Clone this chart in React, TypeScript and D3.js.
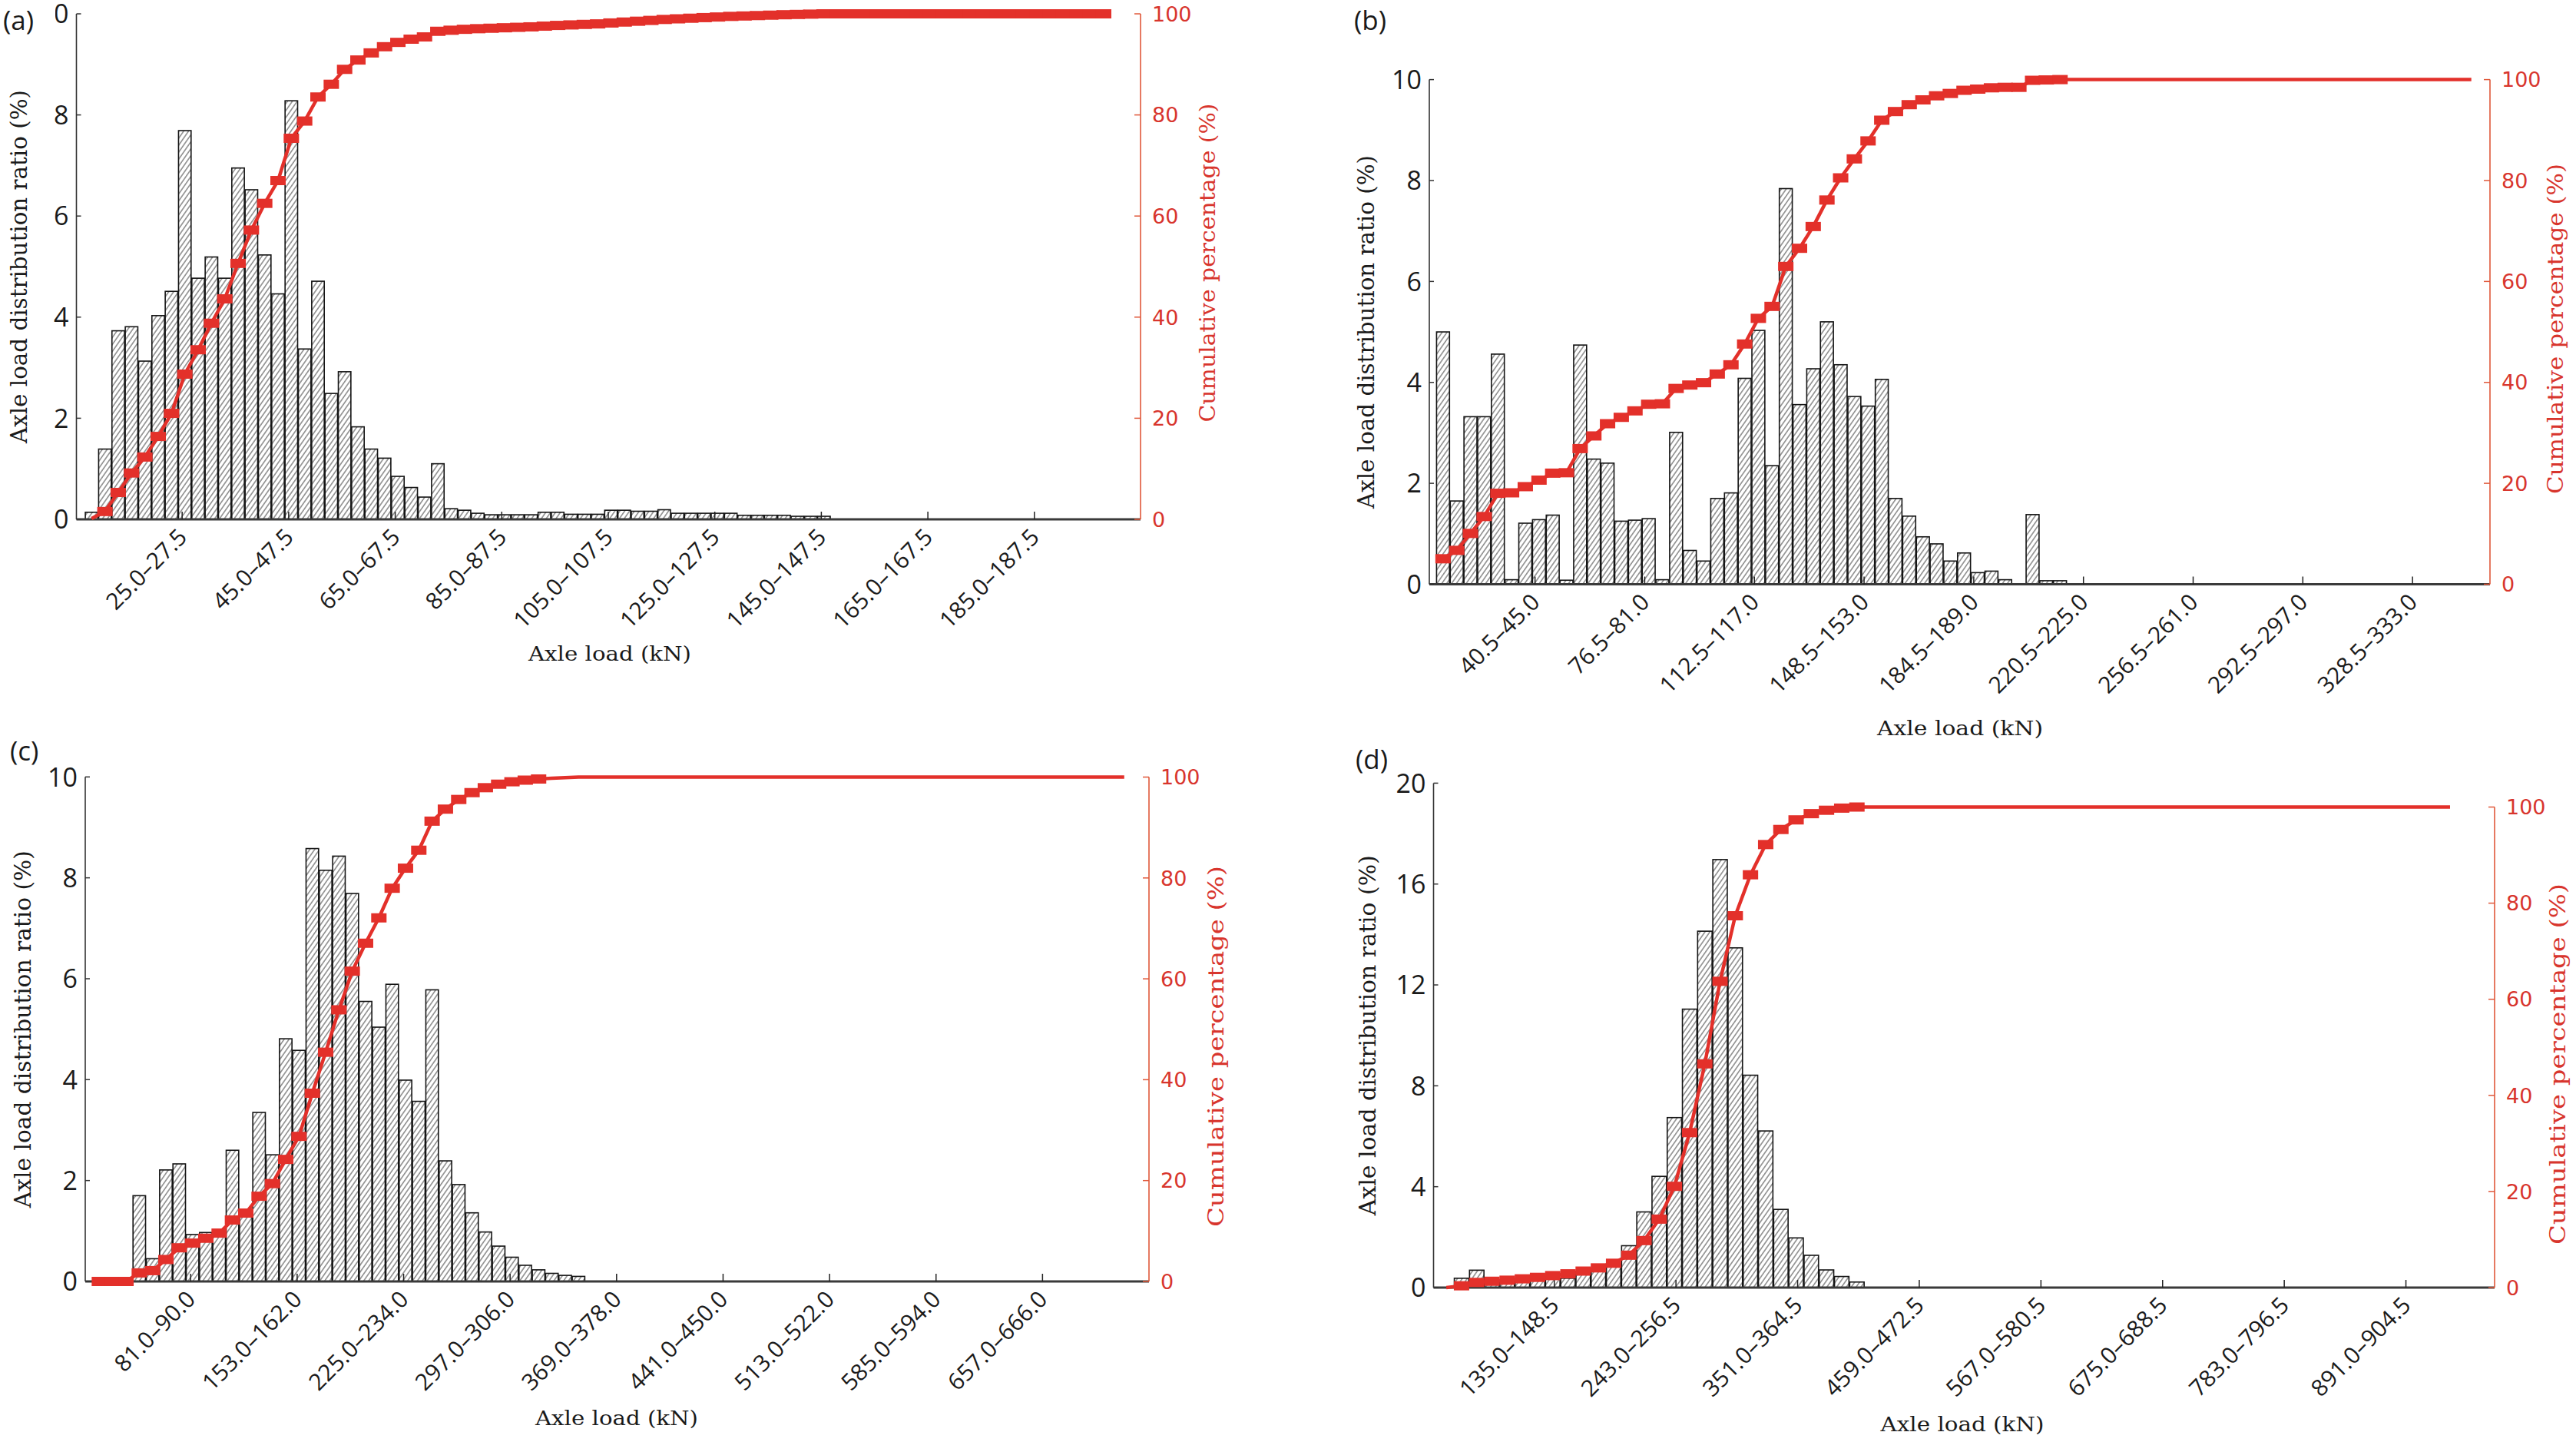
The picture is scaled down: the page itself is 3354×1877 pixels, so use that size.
import * as d3 from "d3";

// ---------- values ----------
// (a) 2.5 kN bins, first bin 7.5–10.0 kN
const barsA = [
  0.14, 1.39, 3.73, 3.81, 3.13, 4.03, 4.51, 7.69, 4.77, 5.19,
  4.77, 6.95, 6.52, 5.23, 4.46, 8.28, 3.37, 4.71, 2.49, 2.92,
  1.83, 1.39, 1.21, 0.85, 0.63, 0.44, 1.1, 0.21, 0.18, 0.12,
  0.09, 0.09, 0.09, 0.09, 0.14, 0.14, 0.1, 0.1, 0.1, 0.18,
  0.18, 0.16, 0.16, 0.19, 0.12, 0.12, 0.12, 0.12, 0.12, 0.08,
  0.08, 0.08, 0.08, 0.06, 0.06, 0.06,
];
const ticksA = [
  "25.0–27.5", "45.0–47.5", "65.0–67.5", "85.0–87.5", "105.0–107.5",
  "125.0–127.5", "145.0–147.5", "165.0–167.5", "185.0–187.5",
];

// (b) 4.5 kN bins, first bin 9.0–13.5 kN
const barsB = [
  5.0, 1.65, 3.32, 3.32, 4.56, 0.09, 1.21, 1.28, 1.37, 0.08,
  4.74, 2.48, 2.4, 1.25, 1.27, 1.3, 0.09, 3.01, 0.67, 0.46,
  1.7, 1.81, 4.08, 5.03, 2.35, 7.84, 3.56, 4.27, 5.2, 4.35,
  3.72, 3.53, 4.06, 1.7, 1.35, 0.94, 0.8, 0.46, 0.62, 0.23,
  0.26, 0.09, 0, 1.38, 0.07, 0.07,
];
const ticksB = [
  "40.5–45.0", "76.5–81.0", "112.5–117.0", "148.5–153.0", "184.5–189.0",
  "220.5–225.0", "256.5–261.0", "292.5–297.0", "328.5–333.0",
];

// (c) 9 kN bins, first bin 45.0–54.0 kN
const barsC = [
  1.7, 0.45, 2.21, 2.33, 0.93, 0.97, 1.02, 2.6, 1.38, 3.35,
  2.51, 4.81, 4.58, 8.58, 8.15, 8.43, 7.69, 5.55, 5.04, 5.89,
  3.99, 3.57, 5.78, 2.39, 1.92, 1.36, 0.98, 0.7, 0.48, 0.32,
  0.23, 0.16, 0.12, 0.1,
];
const ticksC = [
  "81.0–90.0", "153.0–162.0", "225.0–234.0", "297.0–306.0", "369.0–378.0",
  "441.0–450.0", "513.0–522.0", "585.0–594.0", "657.0–666.0",
];

// (d) 13.5 kN bins, first bin 54.0–67.5 kN
const barsD = [
  0.37, 0.69, 0.24, 0.22, 0.28, 0.3, 0.36, 0.37, 0.56, 0.66,
  0.95, 1.66, 3.0, 4.41, 6.74, 11.04, 14.13, 16.97, 13.47, 8.42,
  6.21, 3.1, 1.97, 1.28, 0.7, 0.44, 0.22,
];
const ticksD = [
  "135.0–148.5", "243.0–256.5", "351.0–364.5", "459.0–472.5",
  "567.0–580.5", "675.0–688.5", "783.0–796.5", "891.0–904.5",
];

const cumTicks = [0, 20, 40, 60, 80, 100];

const RED = "#e3302a";
const RED_AXIS = "#e0583a";
const RED_TEXT = "#d8352d";

interface Cfg {
  letter: string;
  bars: number[];
  tickLabels: string[];
  firstTickBin: number;
  tickShift: number;
  domain: [number, number];
  xLeft: number;
  xRight: number;
  yBottom: number;
  yTop: number;
  yTopRight: number;
  leftMax: number;
  leftStep: number;
  lineFrom: number;
  lineTo: number;
  markFrom: number;
  markTo: number;
  letterPos: [number, number];
  letterMask?: boolean;
  yTitleX: number;
  yTitleLen: number;
  rTitle: [number, number, number];
  xTitle: [number, number, number];
}

const panels: Cfg[] = [
  {
    letter: "(a)", bars: barsA, tickLabels: ticksA, firstTickBin: 7, tickShift: -0.2,
    domain: [-1.14, 78.77], xLeft: 99.5, xRight: 1485,
    yBottom: 676, yTop: 18, yTopRight: 18, leftMax: 10, leftStep: 2,
    lineFrom: 0, lineTo: 76, markFrom: 1, markTo: 76,
    letterPos: [4, 39], letterMask: true,
    yTitleX: 24, yTitleLen: 460, rTitle: [1572, 342, 415], xTitle: [794, 860, 212],
  },
  {
    letter: "(b)", bars: barsB, tickLabels: ticksB, firstTickBin: 7, tickShift: -0.29,
    domain: [-1.0, 76.36], xLeft: 1861, xRight: 3242,
    yBottom: 760.5, yTop: 103.6, yTopRight: 103.6, leftMax: 10, leftStep: 2,
    lineFrom: 0, lineTo: 75, markFrom: 0, markTo: 45,
    letterPos: [1763, 39],
    yTitleX: 1778, yTitleLen: 460, rTitle: [3327, 428, 430], xTitle: [2552, 957, 216],
  },
  {
    letter: "(c)", bars: barsC, tickLabels: ticksC, firstTickBin: 4, tickShift: -0.14,
    domain: [-4.06, 75.86], xLeft: 111, xRight: 1496,
    yBottom: 1668, yTop: 1011.3, yTopRight: 1011.5, leftMax: 10, leftStep: 2,
    lineFrom: -3, lineTo: 74, markFrom: -3, markTo: 30,
    letterPos: [13, 990],
    yTitleX: 29, yTitleLen: 465, rTitle: [1583, 1362, 470], xTitle: [803, 1855, 212],
  },
  {
    letter: "(d)", bars: barsD, tickLabels: ticksD, firstTickBin: 6, tickShift: 0.1,
    domain: [-1.84, 67.93], xLeft: 1866.5, xRight: 3248,
    yBottom: 1676, yTop: 1019.4, yTopRight: 1050.5, leftMax: 20, leftStep: 4,
    lineFrom: -1, lineTo: 65, markFrom: 0, markTo: 26,
    letterPos: [1765, 1001],
    yTitleX: 1780, yTitleLen: 469, rTitle: [3330, 1385, 470], xTitle: [2555, 1863, 213],
  },
];

function Panel({ c }: { c: Cfg }) {
  const x = d3.scaleLinear().domain(c.domain).range([c.xLeft, c.xRight]);
  const bw = x(1) - x(0);
  const yL = d3.scaleLinear().domain([0, c.leftMax]).range([c.yBottom, c.yTop]);
  const yR = d3.scaleLinear().domain([0, 100]).range([c.yBottom, c.yTopRight]);

  // cumulative share, normalised to the total of the bars
  const cum = Array.from(d3.cumsum(c.bars));
  const total = cum[cum.length - 1];
  const pct = (i: number) =>
    i < 0 ? 0 : (cum[Math.min(i, cum.length - 1)] / total) * 100;

  const lineIdx = d3.range(c.lineFrom, c.lineTo + 1);
  const markIdx = d3.range(c.markFrom, c.markTo + 1);
  const path = d3
    .line<number>()
    .x((i) => x(i))
    .y((i) => yR(pct(i)))(lineIdx);

  const leftTicks = d3.range(0, c.leftMax + 1e-9, c.leftStep);
  const xTicks = c.tickLabels.map((label, j) => ({
    label,
    pos: x(c.firstTickBin + j * 8 + c.tickShift),
  }));

  return (
    <g>
      {/* histogram */}
      {c.bars.map((v, i) =>
        v > 0 ? (
          <rect
            key={i}
            x={x(i) - bw / 2 + 0.5}
            y={yL(v)}
            width={bw - 1}
            height={c.yBottom - yL(v)}
            fill="url(#hatch)"
            stroke="#141414"
            strokeWidth={1.6}
          />
        ) : null
      )}

      {/* x axis */}
      <line x1={c.xLeft} x2={c.xRight} y1={c.yBottom} y2={c.yBottom} stroke="#3a3a3a" strokeWidth={3} />
      {xTicks.map((t) => (
        <g key={t.label}>
          <line x1={t.pos} x2={t.pos} y1={c.yBottom} y2={c.yBottom - 10} stroke="#222" strokeWidth={1.5} />
          <text
            transform={`translate(${t.pos + 8},${c.yBottom + 25}) rotate(-45)`}
            textAnchor="end"
            fontFamily="'Open Sans', sans-serif"
            fontSize={30}
            fill="#1a1a1a"
          >
            {t.label}
          </text>
        </g>
      ))}

      {/* left axis */}
      <line x1={c.xLeft} x2={c.xLeft} y1={c.yBottom} y2={c.yTop} stroke="#333" strokeWidth={1.6} />
      {leftTicks.map((v) => (
        <g key={v}>
          <line x1={c.xLeft} x2={c.xLeft + 6} y1={yL(v)} y2={yL(v)} stroke="#333" strokeWidth={1.5} />
          <text
            x={c.xLeft - 10}
            y={yL(v)}
            dy="0.36em"
            textAnchor="end"
            fontFamily="'Open Sans', sans-serif"
            fontSize={34}
            fill="#1a1a1a"
          >
            {v}
          </text>
        </g>
      ))}

      {/* right axis */}
      <line x1={c.xRight} x2={c.xRight} y1={c.yBottom} y2={c.yTopRight} stroke={RED_AXIS} strokeWidth={1.6} />
      {cumTicks.map((v) => (
        <g key={v}>
          <line x1={c.xRight - 8} x2={c.xRight} y1={yR(v)} y2={yR(v)} stroke={RED_AXIS} strokeWidth={1.5} />
          <text
            x={c.xRight + 15}
            y={yR(v)}
            dy="0.36em"
            fontFamily="'DejaVu Sans', sans-serif"
            fontSize={27}
            fill={RED_TEXT}
          >
            {v}
          </text>
        </g>
      ))}

      {/* cumulative curve */}
      <path d={path ?? ""} fill="none" stroke={RED} strokeWidth={4.5} strokeLinejoin="round" />
      {markIdx.map((i) => (
        <rect key={i} x={x(i) - 10} y={yR(pct(i)) - 6} width={20} height={12} fill={RED} />
      ))}

      {/* titles */}
      <text
        transform={`translate(${c.yTitleX},${(c.yBottom + c.yTop) / 2}) rotate(-90)`}
        dy="0.35em"
        textAnchor="middle"
        fontFamily="'DejaVu Serif', serif"
        fontSize={30}
        textLength={c.yTitleLen}
        lengthAdjust="spacingAndGlyphs"
        fill="#1a1a1a"
      >
        Axle load distribution ratio (%)
      </text>
      <text
        transform={`translate(${c.rTitle[0]},${c.rTitle[1]}) rotate(-90)`}
        dy="0.35em"
        textAnchor="middle"
        fontFamily="'DejaVu Serif', serif"
        fontSize={28}
        textLength={c.rTitle[2]}
        lengthAdjust="spacingAndGlyphs"
        fill={RED_TEXT}
      >
        Cumulative percentage (%)
      </text>
      <text
        x={c.xTitle[0]}
        y={c.xTitle[1]}
        textAnchor="middle"
        fontFamily="'DejaVu Serif', serif"
        fontSize={26}
        textLength={c.xTitle[2]}
        lengthAdjust="spacingAndGlyphs"
        fill="#1a1a1a"
      >
        Axle load (kN)
      </text>

      {/* panel letter (its white box hides the "1" of the top tick in (a), as in the figure) */}
      {c.letterMask ? (
        <rect x={0} y={0} width={72} height={46} fill="#fff" />
      ) : null}
      <text
        x={c.letterPos[0]}
        y={c.letterPos[1]}
        fontFamily="'Open Sans', sans-serif"
        fontSize={35}
        fill="#1a1a1a"
      >
        {c.letter}
      </text>
    </g>
  );
}

export default function App() {
  return (
    <svg
      width={3354}
      height={1877}
      viewBox="0 0 3354 1877"
      style={{ position: "absolute", left: 0, top: 0, display: "block", background: "#fff" }}
    >
      <defs>
        <pattern
          id="hatch"
          patternUnits="userSpaceOnUse"
          width={5.2}
          height={5.2}
          patternTransform="rotate(35)"
        >
          <rect width={5.2} height={5.2} fill="#fff" />
          <line x1={2.6} y1={0} x2={2.6} y2={5.2} stroke="#4a4a4a" strokeWidth={1} />
        </pattern>
      </defs>
      <rect width={3354} height={1877} fill="#fff" />
      {panels.map((c) => (
        <Panel key={c.letter} c={c} />
      ))}
    </svg>
  );
}
